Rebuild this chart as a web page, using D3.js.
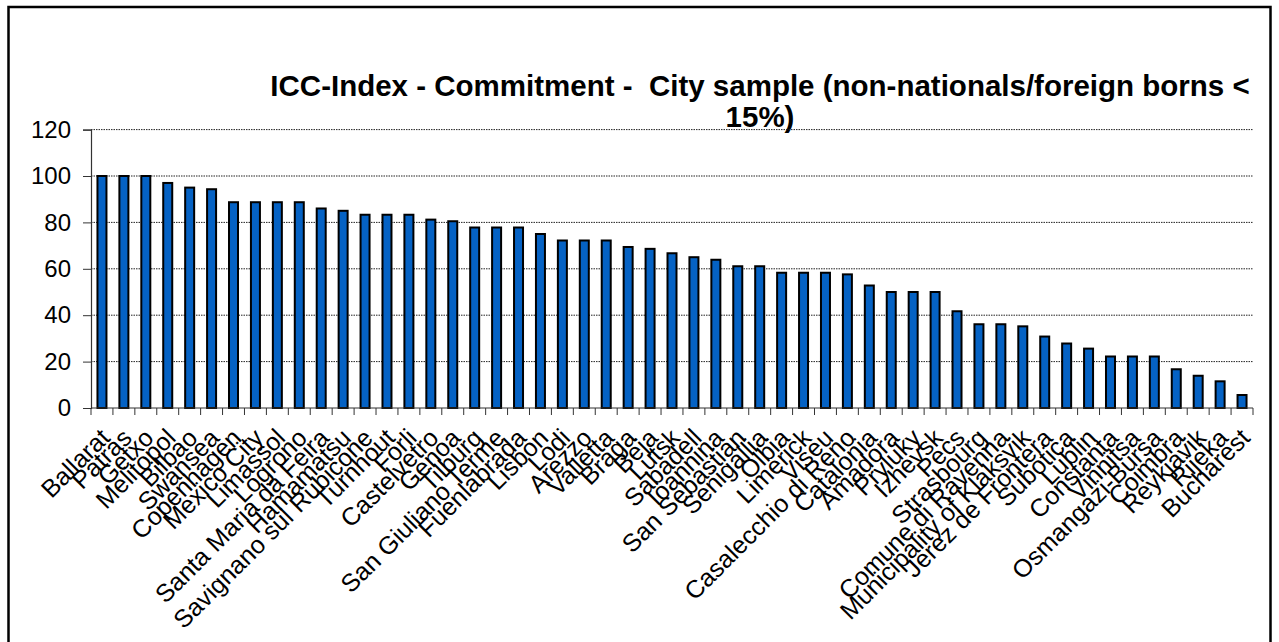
<!DOCTYPE html>
<html>
<head>
<meta charset="utf-8">
<script src="https://cdn.jsdelivr.net/npm/d3@7"></script>
<style>
  body { margin: 0; background: #fff; }
  svg { display: block; font-family: "Liberation Sans", Arial, sans-serif; }
</style>
</head>
<body>
<div id="chart"></div>
<script>
var cities = ['Ballarat', 'Patras', 'Getxo', 'Melitopol', 'Bilbao', 'Swansea', 'Copenhagen',
  'Mexico City', 'Limassol', 'Logrono', 'Santa Maria da Feira', 'Hamamatsu',
  'Savignano sul Rubicone', 'Turnhout', 'Forli', 'Castelvetro', 'Genoa', 'Tilburg',
  'San Giuliano Terme', 'Fuenlabrada', 'Lisbon', 'Lodi', 'Arezzo', 'Valletta', 'Braga',
  'Beja', 'Lutsk', 'Sabadell', 'Ioannina', 'San Sebastian', 'Senigallia', 'Olbia',
  'Limerick', 'Viseu', 'Casalecchio di Reno', 'Catalonia', 'Amadora', 'Pryluky',
  'Izhevsk', 'Pecs', 'Strasbourg', 'Comune di Ravenna', 'Municipality of Klaksvik',
  'Jerez de Frontera', 'Subotica', 'Lublin', 'Constanta', 'Vinnitsa', 'Osmangazi-Bursa',
  'Coimbra', 'Reykjavik', 'Rijeka', 'Bucharest'];

var commitment = [100, 100, 100, 97, 95, 94.3, 88.7, 88.7, 88.7, 88.7, 86, 85, 83.3, 83.3,
  83.3, 81.2, 80.5, 77.8, 77.8, 77.8, 75, 72.2, 72.2, 72.2, 69.4, 68.6, 66.7, 65, 63.9,
  61.1, 61.1, 58.3, 58.3, 58.3, 57.6, 52.8, 50, 50, 50, 41.7, 36.1, 36.1, 35.2, 30.8,
  27.8, 25.6, 22.2, 22.2, 22.2, 16.7, 13.9, 11.5, 5.6];

var yTicks = [0, 20, 40, 60, 80, 100, 120];

var titleLines = ['ICC-Index - Commitment -  City sample (non-nationals/foreign borns <', '15%)'];

var width = 1279, height = 642;
var plotLeft = 91, plotRight = 1253, plotTop = 129.6, plotBottom = 408;

var svg = d3.select('#chart')
  .append('svg')
  .attr('width', width)
  .attr('height', height);

// outer frame
svg.append('rect')
  .attr('x', 8.5)
  .attr('y', 7)
  .attr('width', 1262)
  .attr('height', 700)
  .attr('fill', 'none')
  .attr('stroke', '#000')
  .attr('stroke-width', 2.5);

// title
svg.append('text')
  .attr('x', 760)
  .attr('y', 96)
  .attr('text-anchor', 'middle')
  .attr('font-size', 29.5)
  .attr('font-weight', 'bold')
  .selectAll('tspan')
  .data(titleLines)
  .enter()
  .append('tspan')
  .attr('x', 760)
  .attr('dy', function(d, i) { return i === 0 ? 0 : 31; })
  .style('white-space', 'pre')
  .text(function(d) { return d; });

var x = d3.scaleBand()
  .domain(cities)
  .range([plotLeft, plotRight])
  .paddingInner(0)
  .paddingOuter(0);

var y = d3.scaleLinear()
  .domain([0, 120])
  .range([plotBottom, plotTop]);

// gridlines
svg.append('g')
  .selectAll('line')
  .data(yTicks.slice(1))
  .enter()
  .append('line')
  .attr('x1', plotLeft)
  .attr('x2', plotRight)
  .attr('y1', function(d) { return y(d); })
  .attr('y2', function(d) { return y(d); })
  .attr('stroke', '#222')
  .attr('stroke-width', 1)
  .attr('stroke-dasharray', '1.5,1');

// y axis
var yAxis = svg.append('g')
  .attr('transform', 'translate(' + plotLeft + ',0)')
  .call(d3.axisLeft(y).tickValues(yTicks).tickSize(8).tickPadding(12));

yAxis.select('.domain').attr('stroke', '#333').attr('stroke-width', 1.2);
yAxis.selectAll('.tick line').attr('stroke', '#333');
yAxis.selectAll('text')
  .attr('font-size', 24)
  .attr('font-family', '"Liberation Sans", Arial, sans-serif')
  .attr('fill', '#000');

// bars
var barW = 9;
svg.append('g')
  .selectAll('rect')
  .data(commitment)
  .enter()
  .append('rect')
  .attr('x', function(d, i) { return x(cities[i]) + x.bandwidth() / 2 - barW / 2; })
  .attr('y', function(d) { return y(d); })
  .attr('width', barW)
  .attr('height', function(d) { return y(0) - y(d); })
  .attr('fill', '#0562c4')
  .attr('stroke', '#000')
  .attr('stroke-width', 2);

// x axis line and category boundary ticks
var bounds = cities.map(function(c) { return x(c); }).concat([plotRight]);
svg.append('line')
  .attr('x1', plotLeft)
  .attr('x2', plotRight)
  .attr('y1', plotBottom)
  .attr('y2', plotBottom)
  .attr('stroke', '#333')
  .attr('stroke-width', 1.2);

svg.append('g')
  .selectAll('line')
  .data(bounds)
  .enter()
  .append('line')
  .attr('x1', function(d) { return d; })
  .attr('x2', function(d) { return d; })
  .attr('y1', plotBottom)
  .attr('y2', plotBottom + 7)
  .attr('stroke', '#333');

// category labels
svg.append('g')
  .selectAll('text')
  .data(cities)
  .enter()
  .append('text')
  .attr('transform', function(d) {
    return 'translate(' + (x(d) + x.bandwidth() / 2 - 3) + ',' + (plotBottom + 19) + ') rotate(-45)';
  })
  .attr('text-anchor', 'end')
  .attr('dy', '0.7em')
  .attr('font-size', 25)
  .text(function(d) { return d; });
</script>
</body>
</html>
